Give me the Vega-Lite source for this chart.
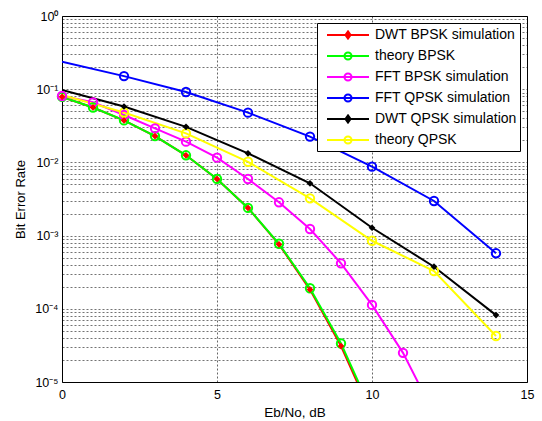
{
  "$schema": "https://vega.github.io/schema/vega-lite/v6.json",
  "width": 465,
  "height": 366,
  "autosize": {"type": "none"},
  "padding": {"left": 62, "top": 16, "right": 15, "bottom": 39},
  "background": "white",
  "config": {
    "view": {"stroke": "black", "strokeWidth": 1},
    "font": "Liberation Sans"
  },
  "data": {
    "values": [
      {"s": "DWT BPSK simulation", "x": 0, "y": 0.0786},
      {"s": "DWT BPSK simulation", "x": 1, "y": 0.0563},
      {"s": "DWT BPSK simulation", "x": 2, "y": 0.0375},
      {"s": "DWT BPSK simulation", "x": 3, "y": 0.0229},
      {"s": "DWT BPSK simulation", "x": 4, "y": 0.0125},
      {"s": "DWT BPSK simulation", "x": 5, "y": 0.00595},
      {"s": "DWT BPSK simulation", "x": 6, "y": 0.00239},
      {"s": "DWT BPSK simulation", "x": 7, "y": 0.00076},
      {"s": "DWT BPSK simulation", "x": 8, "y": 0.000183},
      {"s": "DWT BPSK simulation", "x": 9, "y": 0.000031},
      {"s": "DWT BPSK simulation", "x": 10, "y": 0.0000035},
      {"s": "theory BPSK", "x": 0, "y": 0.0786},
      {"s": "theory BPSK", "x": 1, "y": 0.0563},
      {"s": "theory BPSK", "x": 2, "y": 0.0375},
      {"s": "theory BPSK", "x": 3, "y": 0.0229},
      {"s": "theory BPSK", "x": 4, "y": 0.0125},
      {"s": "theory BPSK", "x": 5, "y": 0.00595},
      {"s": "theory BPSK", "x": 6, "y": 0.00239},
      {"s": "theory BPSK", "x": 7, "y": 0.000773},
      {"s": "theory BPSK", "x": 8, "y": 0.000191},
      {"s": "theory BPSK", "x": 9, "y": 0.0000336},
      {"s": "theory BPSK", "x": 10, "y": 0.00000387},
      {"s": "FFT BPSK simulation", "x": 0, "y": 0.0807},
      {"s": "FFT BPSK simulation", "x": 1, "y": 0.0662},
      {"s": "FFT BPSK simulation", "x": 2, "y": 0.0444},
      {"s": "FFT BPSK simulation", "x": 3, "y": 0.0292},
      {"s": "FFT BPSK simulation", "x": 4, "y": 0.0192},
      {"s": "FFT BPSK simulation", "x": 5, "y": 0.0116},
      {"s": "FFT BPSK simulation", "x": 6, "y": 0.00593},
      {"s": "FFT BPSK simulation", "x": 7, "y": 0.00285},
      {"s": "FFT BPSK simulation", "x": 8, "y": 0.00123},
      {"s": "FFT BPSK simulation", "x": 9, "y": 0.000418},
      {"s": "FFT BPSK simulation", "x": 10, "y": 0.000113},
      {"s": "FFT BPSK simulation", "x": 11, "y": 0.000025},
      {"s": "FFT BPSK simulation", "x": 12, "y": 0.0000037},
      {"s": "FFT QPSK simulation", "x": 0, "y": 0.2375},
      {"s": "FFT QPSK simulation", "x": 2, "y": 0.151},
      {"s": "FFT QPSK simulation", "x": 4, "y": 0.0916},
      {"s": "FFT QPSK simulation", "x": 6, "y": 0.0478},
      {"s": "FFT QPSK simulation", "x": 8, "y": 0.0225},
      {"s": "FFT QPSK simulation", "x": 10, "y": 0.00874},
      {"s": "FFT QPSK simulation", "x": 12, "y": 0.00297},
      {"s": "FFT QPSK simulation", "x": 14, "y": 0.000573},
      {"s": "DWT QPSK simulation", "x": 0, "y": 0.0975},
      {"s": "DWT QPSK simulation", "x": 2, "y": 0.058},
      {"s": "DWT QPSK simulation", "x": 4, "y": 0.0306},
      {"s": "DWT QPSK simulation", "x": 6, "y": 0.0133},
      {"s": "DWT QPSK simulation", "x": 8, "y": 0.00518},
      {"s": "DWT QPSK simulation", "x": 10, "y": 0.00128},
      {"s": "DWT QPSK simulation", "x": 12, "y": 0.000376},
      {"s": "DWT QPSK simulation", "x": 14, "y": 0.000082},
      {"s": "theory QPSK", "x": 0, "y": 0.0833},
      {"s": "theory QPSK", "x": 2, "y": 0.048},
      {"s": "theory QPSK", "x": 4, "y": 0.0249},
      {"s": "theory QPSK", "x": 6, "y": 0.0102},
      {"s": "theory QPSK", "x": 8, "y": 0.00323},
      {"s": "theory QPSK", "x": 10, "y": 0.00085},
      {"s": "theory QPSK", "x": 12, "y": 0.000328},
      {"s": "theory QPSK", "x": 14, "y": 0.0000425}
    ]
  },
  "encoding": {
    "x": {
      "field": "x", "type": "quantitative",
      "scale": {"domain": [0, 15], "nice": false, "zero": false},
      "axis": {
        "title": "Eb/No, dB", "values": [0, 5, 10, 15],
        "grid": true, "gridColor": "#000", "gridOpacity": 0.6, "gridDash": [2, 2],
        "domain": false, "ticks": false, "tickSize": 0, "labelPadding": 6,
        "labelFont": "Liberation Sans", "labelFontSize": 12.5, "labelColor": "#000",
        "labelFlush": false,
        "titleFont": "Liberation Sans", "titleFontSize": 13.5, "titleFontWeight": "normal", "titleColor": "#000",
        "titleY": 34, "titleBaseline": "alphabetic"
      }
    },
    "y": {
      "field": "y", "type": "quantitative",
      "scale": {"type": "log", "domain": [0.00001, 1], "nice": false},
      "axis": {
        "title": "Bit Error Rate",
        "values": [0.00001, 0.00002, 0.00003, 0.00004, 0.00005, 0.00006, 0.00007, 0.00008, 0.00009,
                   0.0001, 0.0002, 0.0003, 0.0004, 0.0005, 0.0006, 0.0007, 0.0008, 0.0009,
                   0.001, 0.002, 0.003, 0.004, 0.005, 0.006, 0.007, 0.008, 0.009,
                   0.01, 0.02, 0.03, 0.04, 0.05, 0.06, 0.07, 0.08, 0.09,
                   0.1, 0.2, 0.3, 0.4, 0.5, 0.6, 0.7, 0.8, 0.9, 1],
        "labelExpr": "abs(log(datum.value)/LN10 - round(log(datum.value)/LN10)) < 0.001 ? '10' + ['⁰','⁻¹','⁻²','⁻³','⁻⁴','⁻⁵'][-round(log(datum.value)/LN10)] : ''",
        "grid": true, "gridColor": "#000", "gridOpacity": 0.55, "gridDash": [2, 2],
        "domain": false, "ticks": false, "tickSize": 0, "labelPadding": 4,
        "labelFont": "Liberation Sans", "labelFontSize": 12.5, "labelColor": "#000",
        "labelFlush": false, "labelOverlap": false,
        "titleFont": "Liberation Sans", "titleFontSize": 13, "titleFontWeight": "normal", "titleColor": "#000",
        "titleX": -42, "titleY": 183, "titleAngle": 270, "titleBaseline": "middle", "titleAlign": "center"
      }
    }
  },
  "layer": [
    {
      "mark": {"type": "point", "filled": false, "strokeWidth": 2, "opacity": 0, "clip": true},
      "encoding": {
        "color": {
          "field": "s", "type": "nominal",
          "scale": {
            "domain": ["DWT BPSK simulation", "theory BPSK", "FFT BPSK simulation", "FFT QPSK simulation", "DWT QPSK simulation", "theory QPSK"],
            "range": ["#ff0000", "#00ff00", "#ff00ff", "#0000ff", "#000000", "#ffff00"]
          },
          "legend": {
            "orient": "none", "legendX": 255, "legendY": 7,
            "title": null,
            "fillColor": "white", "strokeColor": "#000",
            "padding": 3,
            "rowPadding": 4,
            "labelFont": "Liberation Sans", "labelFontSize": 14, "labelColor": "#000",
            "labelOffset": 18, "labelLimit": 300, "symbolOffset": 19,
            "symbolSize": 256, "symbolStrokeWidth": 2, "symbolOpacity": 1
          }
        },
        "shape": {
          "field": "s", "type": "nominal",
          "scale": {
            "domain": ["DWT BPSK simulation", "theory BPSK", "FFT BPSK simulation", "FFT QPSK simulation", "DWT QPSK simulation", "theory QPSK"],
            "range": [
              "M-2.625,0L2.625,0M0,-0.45L0.32,0L0,0.45L-0.32,0Z",
              "M-2.625,0L2.625,0M0.44,0A0.44,0.44 0 1,1 -0.44,0A0.44,0.44 0 1,1 0.44,0ZM0.44,0A0.44,0.44 0 1,0 -0.44,0A0.44,0.44 0 1,0 0.44,0Z",
              "M-2.625,0L2.625,0M0.44,0A0.44,0.44 0 1,1 -0.44,0A0.44,0.44 0 1,1 0.44,0ZM0.44,0A0.44,0.44 0 1,0 -0.44,0A0.44,0.44 0 1,0 0.44,0Z",
              "M-2.625,0L2.625,0M0.44,0A0.44,0.44 0 1,1 -0.44,0A0.44,0.44 0 1,1 0.44,0ZM0.44,0A0.44,0.44 0 1,0 -0.44,0A0.44,0.44 0 1,0 0.44,0Z",
              "M-2.625,0L2.625,0M0,-0.45L0.32,0L0,0.45L-0.32,0Z",
              "M-2.625,0L2.625,0M0.44,0A0.44,0.44 0 1,1 -0.44,0A0.44,0.44 0 1,1 0.44,0ZM0.44,0A0.44,0.44 0 1,0 -0.44,0A0.44,0.44 0 1,0 0.44,0Z"
            ]
          },
          "legend": {
            "orient": "none", "legendX": 255, "legendY": 7,
            "title": null,
            "fillColor": "white", "strokeColor": "#000",
            "padding": 3,
            "rowPadding": 4,
            "labelFont": "Liberation Sans", "labelFontSize": 14, "labelColor": "#000",
            "labelOffset": 18, "labelLimit": 300, "symbolOffset": 19,
            "symbolSize": 256, "symbolStrokeWidth": 2, "symbolOpacity": 1
          }
        }
      }
    },
    {
      "mark": {"type": "line", "strokeWidth": 2, "clip": true},
      "encoding": {
        "stroke": {
          "field": "s", "type": "nominal",
          "scale": {
            "domain": ["DWT BPSK simulation", "theory BPSK", "FFT BPSK simulation", "FFT QPSK simulation", "DWT QPSK simulation", "theory QPSK"],
            "range": ["#ff0000", "#00ff00", "#ff00ff", "#0000ff", "#000000", "#ffff00"]
          },
          "legend": null
        }
      }
    },
    {
      "transform": [{"filter": "datum.y >= 0.00001 && indexof(datum.s, 'DWT') < 0 && (datum.x > 0 || indexof(datum.s, 'QPSK') < 0)"}],
      "mark": {"type": "point", "shape": "circle", "filled": false, "strokeWidth": 2, "size": 70, "opacity": 1},
      "encoding": {"stroke": {"field": "s", "type": "nominal", "legend": null}}
    },
    {
      "transform": [{"filter": "datum.y >= 0.00001 && indexof(datum.s, 'DWT') >= 0 && (datum.x > 0 || indexof(datum.s, 'QPSK') < 0)"}],
      "mark": {"type": "point", "shape": "diamond", "filled": true, "size": 45, "opacity": 1},
      "encoding": {
        "fill": {
          "field": "s", "type": "nominal",
          "scale": {
            "domain": ["DWT BPSK simulation", "theory BPSK", "FFT BPSK simulation", "FFT QPSK simulation", "DWT QPSK simulation", "theory QPSK"],
            "range": ["#ff0000", "#00ff00", "#ff00ff", "#0000ff", "#000000", "#ffff00"]
          },
          "legend": null
        }
      }
    }
  ]
}
